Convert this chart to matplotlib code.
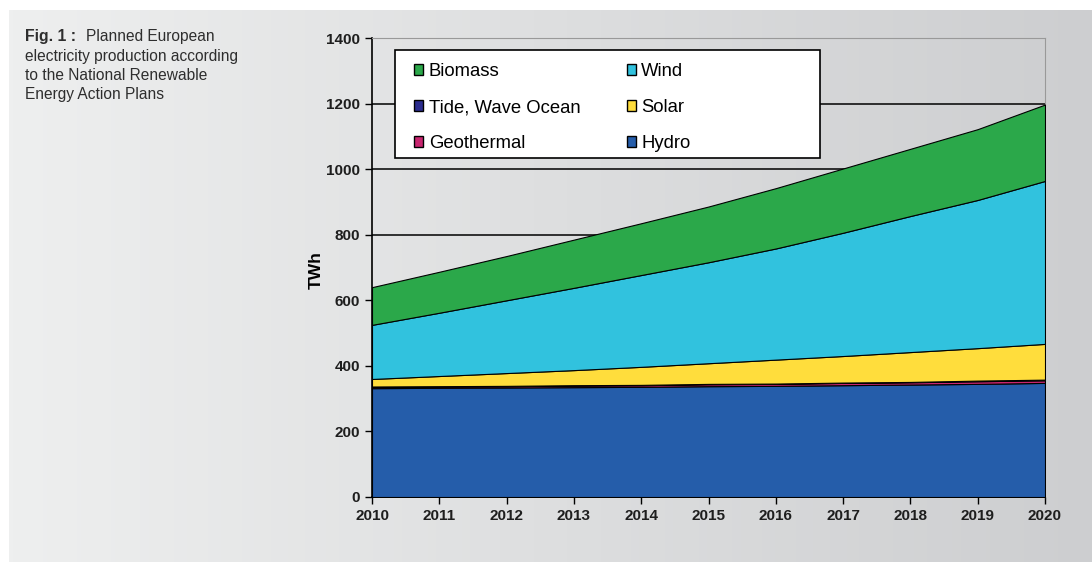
import numpy as np
import matplotlib
matplotlib.use('Agg')
import matplotlib.pyplot as plt
from matplotlib.patches import Patch, Rectangle

plt.rcParams['font.family'] = ['Liberation Sans', 'DejaVu Sans']

# Data (TWh)
years = [2010, 2011, 2012, 2013, 2014, 2015, 2016, 2017, 2018, 2019, 2020]
hydro = [332, 333, 334, 335, 336, 338, 339, 341, 343, 345, 348]
geothermal = [4, 4, 4, 5, 5, 6, 6, 7, 7, 8, 8]
tide = [1, 1, 1, 1, 1, 1, 1, 1, 1, 2, 2]
solar = [23, 31, 39, 46, 55, 63, 73, 81, 91, 99, 109]
wind = [165, 193, 222, 251, 280, 308, 339, 376, 415, 452, 497]
biomass = [115, 125, 135, 147, 158, 170, 184, 196, 205, 216, 233]

names = ['Hydro', 'Geothermal', 'Tide, Wave Ocean', 'Solar', 'Wind', 'Biomass']
colors = ['#255DAA', '#C8256F', '#2B2C8E', '#FFDD3C', '#31C2DE', '#2BA84A']
y_ticks = [0, 200, 400, 600, 800, 1000, 1200, 1400]


def main():
    fig = plt.figure(figsize=(10.92, 5.62), dpi=100)
    fig.patch.set_facecolor('white')

    # Grey gradient panel behind everything
    bg = fig.add_axes([9 / 1092, 0, 1 - 9 / 1092, 1 - 10 / 562], zorder=-10)
    grad = np.linspace(0, 1, 256).reshape(1, -1)
    cmap = matplotlib.colors.LinearSegmentedColormap.from_list('bg', ['#EEEFEF', '#CDCED0'])
    bg.imshow(grad, aspect='auto', cmap=cmap, extent=[0, 1, 0, 1])
    bg.axis('off')

    # Caption
    cap_col = '#2E2E2E'
    fig.text(25 / 1092, 1 - 29 / 562, 'Fig. 1 :', fontsize=11.4, fontweight='bold',
             color=cap_col, va='top')
    fig.text(86 / 1092, 1 - 29 / 562, 'Planned European', fontsize=11.2,
             color=cap_col, va='top')
    fig.text(25 / 1092, 1 - 49 / 562,
             'electricity production according\nto the National Renewable\nEnergy Action Plans',
             fontsize=11.2, color=cap_col, va='top', linespacing=1.33)

    # Main plot area
    ax = fig.add_axes([372 / 1092, 1 - 497 / 562, 673 / 1092, 459 / 562])
    ax.patch.set_alpha(0)
    series = [hydro, geothermal, tide, solar, wind, biomass]
    ax.stackplot(years, *series, colors=colors, edgecolor='black', linewidth=0.8,
                 labels=names, zorder=3)

    ax.set_xlim(2010, 2020)
    ax.set_ylim(0, 1400)
    ax.set_xticks(years)
    ax.set_yticks(y_ticks)
    ax.tick_params(axis='both', labelsize=11, length=5, width=1, color='black')
    for lab in ax.get_xticklabels() + ax.get_yticklabels():
        lab.set_fontweight('bold')
        lab.set_color('#1E1E1E')
    for t in y_ticks[1:-1]:
        ax.axhline(t, color='black', linewidth=1.1, zorder=1)
    ax.spines['left'].set_linewidth(1.2)
    ax.spines['bottom'].set_linewidth(1.2)
    ax.spines['top'].set_color('#999999')
    ax.spines['right'].set_color('#999999')
    ax.set_ylabel('TWh', fontsize=12.5, fontweight='bold')
    ax.yaxis.set_label_coords(-0.072, 0.495)

    # Legend box drawn by hand, entries in two columns
    box = Rectangle((23 / 673, (497 - 158) / 459), 425 / 673, 108 / 459,
                    transform=ax.transAxes, facecolor='white', edgecolor='black',
                    linewidth=1.2, zorder=4)
    ax.add_patch(box)
    order = ['Biomass', 'Tide, Wave Ocean', 'Geothermal', 'Wind', 'Solar', 'Hydro']
    handles = [Patch(facecolor=colors[names.index(n)], edgecolor='black', linewidth=1)
               for n in order]
    leg = ax.legend(handles, order, ncol=2, loc='upper left',
                    bbox_to_anchor=((414 - 372) / 673, (497 - 63) / 459),
                    fontsize=13.3, frameon=False, handlelength=0.5, handleheight=0.5,
                    handletextpad=0.3, labelspacing=1.03, columnspacing=2.5,
                    borderpad=0, borderaxespad=0)
    leg.set_zorder(5)

    fig.savefig('out.png', dpi=100)


if __name__ == "__main__":
    main()
